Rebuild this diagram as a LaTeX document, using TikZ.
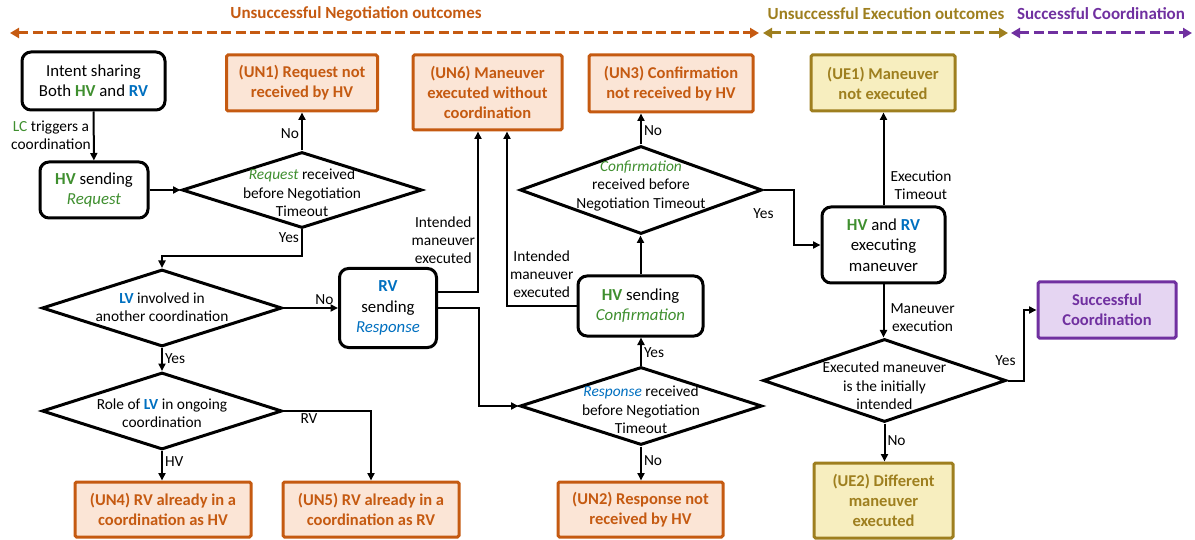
\documentclass[tikz,border=0pt]{standalone}
\usepackage{fontspec}
\setmainfont{Carlito}
\usetikzlibrary{arrows.meta,shapes.geometric}
\definecolor{org}{HTML}{C55A11}
\definecolor{orgfill}{HTML}{FBE5D6}
\definecolor{olv}{HTML}{9E7F1F}
\definecolor{olvfill}{HTML}{F7EEBF}
\definecolor{pur}{HTML}{7030A0}
\definecolor{purfill}{HTML}{E5D5F2}
\definecolor{hvg}{HTML}{3F8F2F}
\definecolor{rvb}{HTML}{0070C0}
\newcommand{\hvtxt}{\textcolor{hvg}{\textbf{HV}}}
\newcommand{\rvtxt}{\textcolor{rvb}{\textbf{RV}}}
\newcommand{\lvtxt}{\textcolor{rvb}{\textbf{LV}}}
\begin{document}
\begin{tikzpicture}[x=1pt,y=-1pt,
  proc/.style={draw, line width=3pt, rounded corners=9pt, fill=white, align=center,
    font=\fontsize{16.8}{20.3}\selectfont, inner sep=0pt},
  outc/.style={draw=org, fill=orgfill, line width=3pt, rounded corners=1.5pt, text=org,
    font=\bfseries\fontsize{16.5}{20}\selectfont, align=center, inner sep=0pt},
  outce/.style={outc, draw=olv, fill=olvfill, text=olv},
  outcs/.style={outc, draw=pur, fill=purfill, text=pur},
  dia/.style={draw, line width=3pt, diamond, inner sep=0pt, fill=white},
  dtext/.style={align=center, font=\fontsize{15.4}{18.3}\selectfont, inner sep=0pt},
  lbl/.style={font=\fontsize{15.4}{18}\selectfont, align=center, inner sep=2pt},
  conn/.style={line width=2pt, -{Triangle[length=7.5pt,width=7pt]}},
  banner/.style={line width=3pt, dash pattern=on 10pt off 4.5pt,
    {Triangle[length=9pt,width=10pt]}-{Triangle[length=9pt,width=10pt]}},
  btext/.style={font=\bfseries\fontsize{17}{20}\selectfont, inner sep=0pt}
]
\useasboundingbox (0,0) rectangle (1195,540);

% banner
\coordinate (bn1) at (10,33);
\coordinate (bn2) at (759,33);
\coordinate (be1) at (763,33);
\coordinate (be2) at (1008,33);
\coordinate (bs1) at (1011,33);
\coordinate (bs2) at (1192,33);
\draw[banner, org] (bn1) -- (bn2);
\draw[banner, olv] (be1) -- (be2);
\draw[banner, pur] (bs1) -- (bs2);
\node[btext, text=org] (tneg) at (356,14) {Unsuccessful Negotiation outcomes};
\node[btext, text=olv] (texe) at (886,14) {Unsuccessful Execution outcomes};
\node[btext, text=pur] (tsuc) at (1101,14) {Successful Coordination};

% process boxes
\node[proc, minimum width=143pt, minimum height=58pt] (start) at (93.5,81) {Intent sharing\\Both \hvtxt{} and \rvtxt};
\node[proc, minimum width=108pt, minimum height=56pt] (hvreq) at (94,190) {\hvtxt{} sending\\\textcolor{hvg}{\textit{Request}}};
\node[proc, minimum width=97pt, minimum height=79pt] (rvresp) at (388,308) {\rvtxt\\sending\\\textcolor{rvb}{\textit{Response}}};
\node[proc, minimum width=125pt, minimum height=60pt] (hvconf) at (640.5,306) {\hvtxt{} sending\\\textcolor{hvg}{\textit{Confirmation}}};
\node[proc, minimum width=123pt, minimum height=76pt] (exec) at (883.5,245) {\hvtxt{} and \rvtxt\\executing\\maneuver};

% diamonds
\node[dia, minimum width=240pt, minimum height=76pt] (d1) at (302,190) {};
\node[dtext] (d1t) at (302,193) {\textcolor{hvg}{\textit{Request}} received\\before Negotiation\\Timeout};
\node[dia, minimum width=240pt, minimum height=77pt] (d2) at (162,308) {};
\node[dtext] (d2t) at (162,307) {\lvtxt{} involved in\\another coordination};
\node[dia, minimum width=240pt, minimum height=77pt] (d3) at (162,411) {};
\node[dtext] (d3t) at (162,413) {Role of \lvtxt{} in ongoing\\coordination};
\node[dia, minimum width=242pt, minimum height=88pt] (d4) at (641,190) {};
\node[dtext] (d4t) at (641,186) {\textcolor{hvg}{\textit{Confirmation}}\\received before\\Negotiation Timeout};
\node[dia, minimum width=242pt, minimum height=78pt] (d5) at (641,406) {};
\node[dtext] (d5t) at (641,410) {\textcolor{rvb}{\textit{Response}} received\\before Negotiation\\Timeout};
\node[dia, minimum width=243pt, minimum height=83pt] (d6) at (884.5,380.5) {};
\node[dtext] (d6t) at (884.5,386) {Executed maneuver\\is the initially\\intended};

% outcome boxes
\node[outc, minimum width=151pt, minimum height=56pt] (un1) at (302,83) {(UN1) Request not\\received by HV};
\node[outc, minimum width=149pt, minimum height=75pt] (un6) at (487.5,92.5) {(UN6) Maneuver\\executed without\\coordination};
\node[outc, minimum width=164pt, minimum height=57pt] (un3) at (671,83.5) {(UN3) Confirmation\\not received by HV};
\node[outc, minimum width=176pt, minimum height=55pt] (un4) at (163,509.5) {(UN4) RV already in a\\coordination as HV};
\node[outc, minimum width=176pt, minimum height=55pt] (un5) at (371,509.5) {(UN5) RV already in a\\coordination as RV};
\node[outc, minimum width=165pt, minimum height=55pt] (un2) at (640.5,509.5) {(UN2) Response not\\received by HV};
\node[outce, minimum width=144pt, minimum height=56pt] (ue1) at (883,83) {(UE1) Maneuver\\not executed};
\node[outce, minimum width=139pt, minimum height=75pt] (ue2) at (883.5,500.5) {(UE2) Different\\maneuver\\executed};
\node[outcs, minimum width=138pt, minimum height=56pt] (succ) at (1107,310) {Successful\\Coordination};

% connectors
\draw[conn] (start) -- node[lbl, left, pos=0.48] {\textcolor{hvg}{LC} triggers a\\coordination} (hvreq);
\draw[conn] (hvreq) -- (d1);
\draw[conn] (d1.north) -- node[lbl, left, pos=0.45] {No} (un1.south);
\draw[conn] (d1.south) -- node[lbl, left, pos=0.3] {Yes} ++(0,27) -| (d2.north);
\draw[conn] (d2.east) -- node[lbl, above, pos=0.75] {No} (rvresp.west);
\draw[conn] (d2.south) -- node[lbl, right, pos=0.45] {Yes} (d3.north);
\draw[conn] (d3.south) -- node[lbl, right, pos=0.35] {HV} (d3.south |- un4.north);
\draw[conn] (d3.east) -| node[lbl, below right, pos=0.08] {RV} (un5.north);
\draw[conn] ([yshift=16pt]rvresp.east) -| node[lbl, left, pos=0.66] {Intended\\maneuver\\executed} ([xshift=-9.5pt]un6.south);
\draw[conn] (rvresp.east) -- ++(41,0) |- (d5.west);
\draw[conn] (hvconf.west) -| node[lbl, right, pos=0.59] {Intended\\maneuver\\executed} ([xshift=19.5pt]un6.south);
\draw[conn] (d5.north) -- node[lbl, right, pos=0.45] {Yes} (d5.north |- hvconf.south);
\draw[conn] (d5.south) -- node[lbl, right, pos=0.42] {No} (d5.south |- un2.north);
\draw[conn] (hvconf.north) -- (hvconf.north |- d4.south);
\draw[conn] (d4.north) -- node[lbl, right, pos=0.45] {No} (d4.north |- un3.south);
\draw[conn] (d4.east) -- node[lbl, pos=0, anchor=north, yshift=-16pt] {Yes} ++(30,0) |- (exec.west);
\draw[conn] (exec.north) -- node[lbl, right, pos=0.22, xshift=4pt] {Execution\\Timeout} (exec.north |- ue1.south);
\draw[conn] (exec.south) -- node[lbl, right, pos=0.62, xshift=4pt] {Maneuver\\execution} (exec.south |- d6.north);
\draw[conn] (d6.east) -- node[lbl, pos=0, anchor=south, yshift=12pt, xshift=-2pt] {Yes} ++(16,0) |- (succ.west);
\draw[conn] (d6.south) -- node[lbl, right, pos=0.45] {No} (d6.south |- ue2.north);
\end{tikzpicture}
\end{document}
